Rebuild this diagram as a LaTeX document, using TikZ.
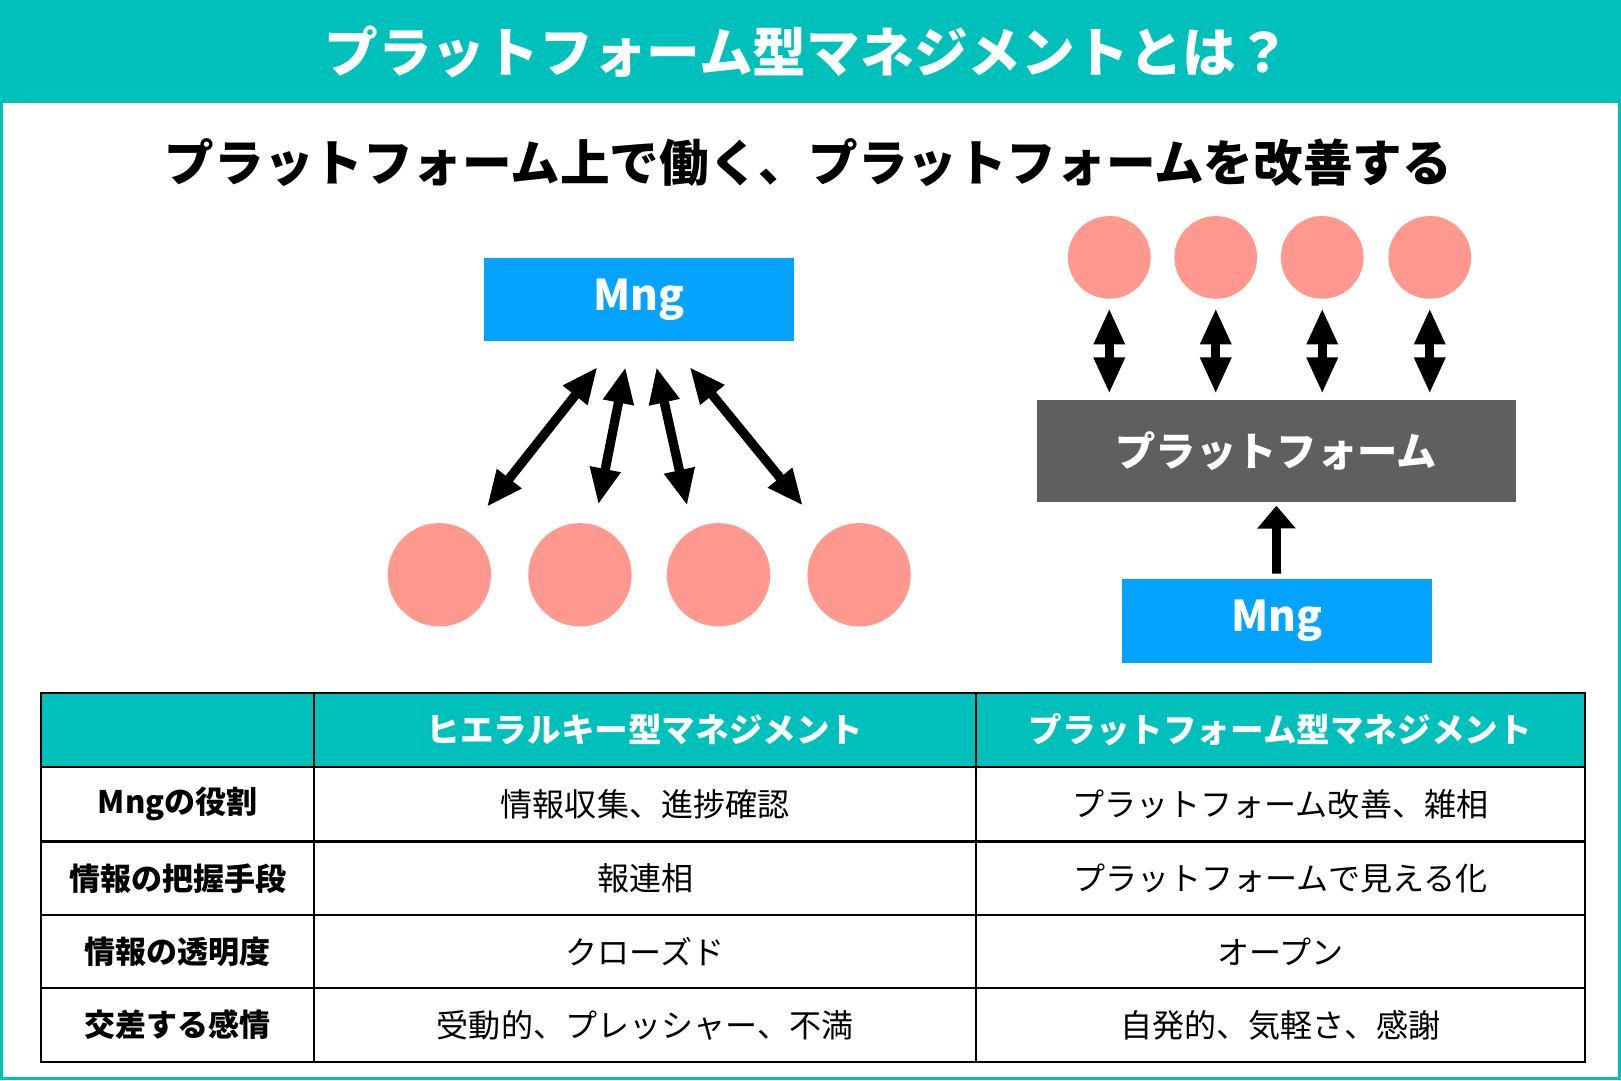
\documentclass[tikz,border=0pt]{standalone}
\usepackage{fontspec}
\setmainfont{Noto Sans CJK JP}
\usetikzlibrary{arrows.meta}
\definecolor{bandteal}{RGB}{0,192,188}
\definecolor{mngblue}{RGB}{3,163,255}
\definecolor{member}{RGB}{255,152,142}
\definecolor{platgray}{RGB}{95,95,95}
\begin{document}
\begin{tikzpicture}[x=1pt, y=-1pt, line join=miter,
		>={Triangle[length=35pt,width=28pt]},
		mngbox/.style={fill=mngblue, minimum width=300pt, minimum height=80pt, inner sep=0pt, text=white, font=\fontsize{41}{44}\selectfont\bfseries},
		platbox/.style={fill=platgray, minimum width=463pt, minimum height=99pt, inner sep=0pt, text=white, font=\fontsize{39}{42}\selectfont\bfseries},
		person/.style={circle, fill=member, inner sep=0pt},
		biarrow/.style={<->, line width=9pt},
		headtxt/.style={text=white, font=\fontsize{32.5}{36}\selectfont\bfseries},
		rowtxt/.style={font=\fontsize{30}{34}\selectfont\bfseries},
		celltxt/.style={font=\fontsize{31}{34}\selectfont}]
		\useasboundingbox (0,0) rectangle (1568,1045);
		% frame and title band
		\fill[bandteal] (0,0) rectangle (1568,1045);
		\fill[white] (3,100) rectangle (1565,1042);
		\node[text=white, font=\fontsize{52}{56}\selectfont\bfseries] (title) at (781,50) {プラットフォーム型マネジメントとは？};
		\node[font=\fontsize{48}{52}\selectfont\bfseries] (subtitle) at (782,157) {プラットフォーム上で働く、プラットフォームを改善する};
		% hierarchy
		\node[mngbox] (mngL) at (618,290) {Mng};
		\node[person, minimum size=100pt] (cL1) at (425,556) {};
		\node[person, minimum size=100pt] (cL2) at (561,556) {};
		\node[person, minimum size=100pt] (cL3) at (695,556) {};
		\node[person, minimum size=100pt] (cL4) at (831,556) {};
		\coordinate (aL1) at (578,355);
		\coordinate (aL2) at (605,355);
		\coordinate (aL3) at (635,355);
		\coordinate (aL4) at (667,355);
		\draw[biarrow, shorten <=30pt] (cL1.57) -- (aL1);
		\draw[biarrow, shorten <=20pt] (cL2.74) -- (aL2);
		\draw[biarrow, shorten <=24pt] (cL3.120) -- (aL3);
		\draw[biarrow, shorten <=36pt] (cL4.129) -- (aL4);
		% platform
		\node[person, minimum size=80pt] (cR1) at (1073,249) {};
		\node[person, minimum size=80pt] (cR2) at (1176,249) {};
		\node[person, minimum size=80pt] (cR3) at (1279,249) {};
		\node[person, minimum size=80pt] (cR4) at (1383,249) {};
		\node[platbox] (plat) at (1234.5,436.5) {プラットフォーム};
		\node[mngbox, minimum height=81pt] (mngR) at (1235,600.5) {Mng};
		\draw[biarrow, shorten <=9pt, shorten >=6pt] (cR1.south) -- (cR1.south |- plat.north);
		\draw[biarrow, shorten <=9pt, shorten >=6pt] (cR2.south) -- (cR2.south |- plat.north);
		\draw[biarrow, shorten <=9pt, shorten >=6pt] (cR3.south) -- (cR3.south |- plat.north);
		\draw[biarrow, shorten <=9pt, shorten >=6pt] (cR4.south) -- (cR4.south |- plat.north);
		\draw[->, line width=8.5pt, >={Triangle[length=22pt,width=36pt]}, shorten <=5pt, shorten >=3pt] (mngR) -- (plat);
		% table
		\fill[bandteal] (40,670) rectangle (1533,742);
		\draw[line width=2pt] (40,670) rectangle (1533,1027);
		\draw[line width=2pt] (40,742) -- (1533,742) (40,814) -- (1533,814) (40,885) -- (1533,885) (40,956) -- (1533,956);
		\draw[line width=2pt] (304,670) -- (304,1027) (944,670) -- (944,1027);
		\node[headtxt] (hHier) at (624,706) {ヒエラルキー型マネジメント};
		\node[headtxt] (hPlat) at (1238.5,706) {プラットフォーム型マネジメント};
		\node[rowtxt] (rRole) at (172,778) {Mngの役割};
		\node[rowtxt] (rInfo) at (172,850) {情報の把握手段};
		\node[rowtxt] (rOpen) at (172,920.5) {情報の透明度};
		\node[rowtxt] (rFeel) at (172,991.5) {交差する感情};
		\node[celltxt] (hRole) at (624,778) {情報収集、進捗確認};
		\node[celltxt] (hInfo) at (624,850) {報連相};
		\node[celltxt] (hOpen) at (624,920.5) {クローズド};
		\node[celltxt] (hFeel) at (624,991.5) {受動的、プレッシャー、不満};
		\node[celltxt] (pRole) at (1238.5,778) {プラットフォーム改善、雑相};
		\node[celltxt] (pInfo) at (1238.5,850) {プラットフォームで見える化};
		\node[celltxt] (pOpen) at (1238.5,920.5) {オープン};
		\node[celltxt] (pFeel) at (1238.5,991.5) {自発的、気軽さ、感謝};
\end{tikzpicture}
\end{document}
